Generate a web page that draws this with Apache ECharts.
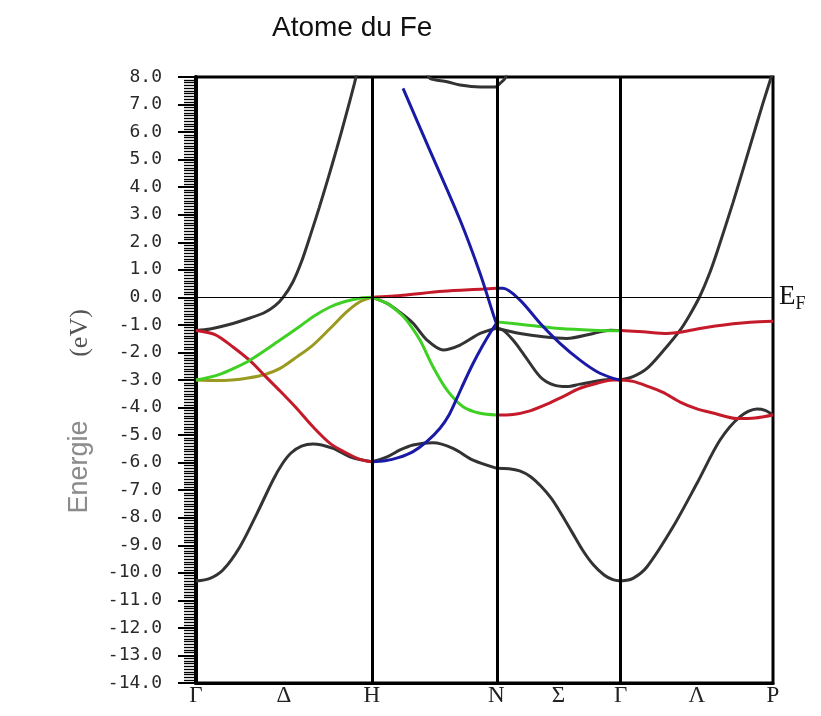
<!DOCTYPE html>
<html>
<head>
<meta charset="utf-8">
<script src="https://cdn.jsdelivr.net/npm/echarts@6/dist/echarts.min.js"></script>
<style>
  html, body { margin: 0; padding: 0; background: #fff; }
  #chart { width: 821px; height: 716px; }
</style>
</head>
<body>
<div id="chart"></div>
<script>
// high-symmetry points along the bcc path (units of 2pi/a)
const kTicks = [0, 0.5, 1, 1.707, 2.061, 2.414, 2.847, 3.280];
const kLabels = ['Γ', 'Δ', 'H', 'N', 'Σ', 'Γ', 'Λ', 'P'];
const kLines = [1, 1.707, 2.414];

// bands, [k, energy eV]
// Γ - H
const blackUpGH = [[0, -1.2], [0.08, -1.15], [0.21, -0.95], [0.307, -0.75], [0.39, -0.55], [0.45, -0.3], [0.495, 0], [0.55, 0.55], [0.6, 1.3], [0.65, 2.25], [0.7, 3.25], [0.75, 4.3], [0.8, 5.4], [0.85, 6.55], [0.9, 7.75], [0.92, 8.3]];
const redGH = [[0, -1.2], [0.108, -1.35], [0.21, -1.8], [0.307, -2.3], [0.392, -2.85], [0.478, -3.4], [0.568, -4.0], [0.665, -4.7], [0.762, -5.3], [0.858, -5.66], [0.932, -5.88], [1, -5.97]];
const greenGH = [[0, -3.0], [0.108, -2.85], [0.193, -2.64], [0.307, -2.28], [0.478, -1.55], [0.591, -1.05], [0.665, -0.7], [0.762, -0.35], [0.847, -0.15], [0.932, -0.03], [1, 0]];
const oliveGH = [[0, -3.0], [0.108, -3.02], [0.205, -3.0], [0.296, -2.93], [0.392, -2.8], [0.478, -2.58], [0.574, -2.16], [0.665, -1.73], [0.762, -1.13], [0.858, -0.52], [0.932, -0.16], [1, 0]];
const blackLowGH = [[0, -10.3], [0.08, -10.2], [0.153, -9.9], [0.25, -9.05], [0.347, -7.84], [0.438, -6.63], [0.49, -6.05], [0.54, -5.65], [0.6, -5.4], [0.665, -5.32], [0.779, -5.48], [0.875, -5.79], [1, -5.97]];
// H - N
const redHN = [[1, 0], [1.177, 0.08], [1.404, 0.22], [1.632, 0.3], [1.707, 0.33]];
const blueSteepHN = [[1.177, 7.59], [1.312, 5.59], [1.501, 2.81], [1.615, 0.87], [1.688, -0.58], [1.707, -0.94]];
const blueHN = [[1, -5.97], [1.074, -5.93], [1.15, -5.82], [1.234, -5.6], [1.31, -5.25], [1.387, -4.75], [1.44, -4.25], [1.484, -3.65], [1.53, -3.0], [1.575, -2.4], [1.625, -1.8], [1.671, -1.3], [1.707, -0.95]];
const greenHN = [[1, 0], [1.086, -0.22], [1.16, -0.58], [1.2, -0.85], [1.273, -1.55], [1.347, -2.52], [1.427, -3.37], [1.518, -3.97], [1.615, -4.21], [1.707, -4.27]];
const blackHN = [[1, 0], [1.086, -0.22], [1.16, -0.55], [1.234, -0.94], [1.313, -1.55], [1.404, -1.91], [1.501, -1.73], [1.615, -1.31], [1.707, -1.12]];
const blackLowHN = [[1, -5.97], [1.086, -5.79], [1.16, -5.54], [1.234, -5.36], [1.347, -5.28], [1.461, -5.48], [1.575, -5.91], [1.707, -6.2]];
const blackTopHN = [[1.31, 8.2], [1.33, 7.95], [1.427, 7.83], [1.501, 7.71], [1.615, 7.64], [1.688, 7.64], [1.707, 7.64]];
// N - Γ
const blackTopNG = [[1.707, 7.64], [1.728, 7.77], [1.757, 7.95], [1.774, 8.3]];
const blueNG = [[1.707, 0.33], [1.745, 0.33], [1.842, -0.1], [1.956, -0.94], [2.069, -1.67], [2.183, -2.28], [2.28, -2.7], [2.371, -2.94], [2.414, -3.0]];
const greenNG = [[1.707, -0.89], [1.876, -1.0], [2.069, -1.13], [2.257, -1.19], [2.414, -1.21]];
const blackNG = [[1.707, -1.12], [1.842, -1.31], [1.974, -1.43], [2.107, -1.49], [2.259, -1.31], [2.354, -1.19], [2.414, -1.2]];
const blackDipNG = [[1.707, -1.12], [1.745, -1.19], [1.802, -1.55], [1.859, -2.03], [1.956, -2.88], [2.032, -3.18], [2.109, -3.24], [2.183, -3.15], [2.371, -2.97], [2.414, -3.0]];
const redNG = [[1.707, -4.27], [1.802, -4.25], [1.899, -4.12], [1.995, -3.88], [2.086, -3.6], [2.183, -3.3], [2.28, -3.12], [2.371, -3.0], [2.414, -3.0]];
const blackLowNG = [[1.707, -6.2], [1.78, -6.22], [1.84, -6.3], [1.9, -6.5], [1.96, -6.85], [2.02, -7.3], [2.08, -7.9], [2.14, -8.55], [2.2, -9.2], [2.26, -9.72], [2.32, -10.08], [2.37, -10.25], [2.414, -10.3]];
// Γ - P
const redGP = [[2.414, -1.2], [2.541, -1.25], [2.678, -1.31], [2.752, -1.27], [2.865, -1.13], [3.053, -0.96], [3.15, -0.9], [3.28, -0.87]];
const blackGP = [[2.414, -3.0], [2.484, -2.88], [2.564, -2.58], [2.655, -1.95], [2.752, -1.19], [2.81, -0.6], [2.865, 0.05], [2.915, 0.8], [2.962, 1.65], [3.053, 3.45], [3.15, 5.5], [3.223, 7.05], [3.28, 8.2]];
const redLowGP = [[2.414, -3.0], [2.484, -3.05], [2.564, -3.22], [2.655, -3.45], [2.752, -3.8], [2.848, -4.05], [2.939, -4.2], [3.076, -4.4], [3.178, -4.38], [3.28, -4.27]];
const blackLowGP = [[2.414, -10.3], [2.484, -10.2], [2.564, -9.78], [2.712, -8.33], [2.848, -6.75], [2.979, -5.18], [3.093, -4.33], [3.189, -4.05], [3.235, -4.1], [3.28, -4.27]];

const BLACK = '#333333';
const RED = '#c41a2a';
const GREEN = '#3fd024';
const OLIVE = '#9a9a20';
const BLUE = '#1a1aa6';

const bands = [
    [blackUpGH, BLACK], [blackLowGH, BLACK], [blackHN, BLACK], [blackLowHN, BLACK],
    [blackTopHN, BLACK], [blackTopNG, BLACK], [blackNG, BLACK], [blackDipNG, BLACK],
    [blackLowNG, BLACK], [blackGP, BLACK], [blackLowGP, BLACK],
    [oliveGH, OLIVE], [redGH, RED], [greenGH, GREEN],
    [redHN, RED], [greenHN, GREEN], [blueHN, BLUE], [blueSteepHN, BLUE],
    [redNG, RED], [greenNG, GREEN], [blueNG, BLUE],
    [redGP, RED], [redLowGP, RED]
];

const chart = echarts.init(document.getElementById('chart'), null, { renderer: 'canvas' });

let series = bands.map(([data, color]) => {
    return {
        type: 'line',
        data: data,
        showSymbol: false,
        smooth: 0.3,
        clip: true,
        silent: true,
        lineStyle: { color: color, width: 3 },
        z: color === BLACK ? 2 : 3
    };
});

// vertical symmetry lines and the Fermi level
series.push({
    type: 'line',
    data: [],
    silent: true,
    markLine: {
        silent: true,
        symbol: 'none',
        animation: false,
        data: [
            ...kLines.map(k => ({ xAxis: k, lineStyle: { color: '#000', width: 3, type: 'solid' }, label: { show: false } })),
            {
                yAxis: 0,
                lineStyle: { color: '#000', width: 1, type: 'solid' },
                label: {
                    show: true,
                    position: 'end',
                    distance: 6,
                    formatter: '{e|E}{f|F}',
                    rich: {
                        e: { fontFamily: 'Liberation Serif', fontSize: 27, color: '#111' },
                        f: { fontFamily: 'Liberation Serif', fontSize: 18, color: '#111', padding: [14, 0, 0, 0] }
                    }
                }
            }
        ]
    }
});

let option = {
    animation: false,
    backgroundColor: '#fff',
    grid: {
        left: 196, top: 77, width: 577, height: 606,
        show: true, borderColor: '#000', borderWidth: 3, backgroundColor: 'transparent'
    },
    graphic: [
        {
            type: 'text', left: 272, top: 14,
            style: { text: 'Atome du Fe', fontFamily: 'Liberation Sans', fontSize: 28, fill: '#111' }
        },
        {
            type: 'text', x: 80, y: 467, rotation: Math.PI / 2,
            style: { text: 'Energie', fontFamily: 'Liberation Sans', fontSize: 27, fill: '#8c8c8c', align: 'center', verticalAlign: 'middle' }
        },
        {
            type: 'text', x: 80, y: 333, rotation: Math.PI / 2,
            style: { text: '(eV)', fontFamily: 'Liberation Serif', fontSize: 26, fill: '#555', align: 'center', verticalAlign: 'middle' }
        }
    ],
    xAxis: {
        type: 'value',
        min: 0,
        max: 3.28,
        axisLine: { show: true, onZero: false, lineStyle: { color: '#000', width: 3 } },
        axisTick: { show: false },
        splitLine: { show: false },
        axisLabel: {
            customValues: kTicks,
            showMinLabel: true,
            showMaxLabel: true,
            hideOverlap: false,
            margin: 1,
            fontFamily: 'Liberation Serif',
            fontSize: 23,
            color: '#222',
            formatter: (value) => {
                let i = kTicks.findIndex(k => Math.abs(k - value) < 1e-6);
                return i >= 0 ? kLabels[i] : '';
            }
        }
    },
    yAxis: {
        type: 'value',
        min: -14,
        max: 8,
        interval: 1,
        axisLine: { show: true, lineStyle: { color: '#000', width: 4 } },
        axisTick: { show: true, inside: false, length: 18, lineStyle: { color: '#000', width: 2 } },
        minorTick: { show: true, splitNumber: 10, length: 12, lineStyle: { color: '#000', width: 1.3 } },
        splitLine: { show: false },
        axisLabel: {
            margin: 34,
            fontFamily: 'DejaVu Sans Mono',
            fontSize: 18,
            color: '#2a2a2a',
            formatter: (value) => value.toFixed(1)
        }
    },
    series: series
};

chart.setOption(option);
</script>
</body>
</html>
